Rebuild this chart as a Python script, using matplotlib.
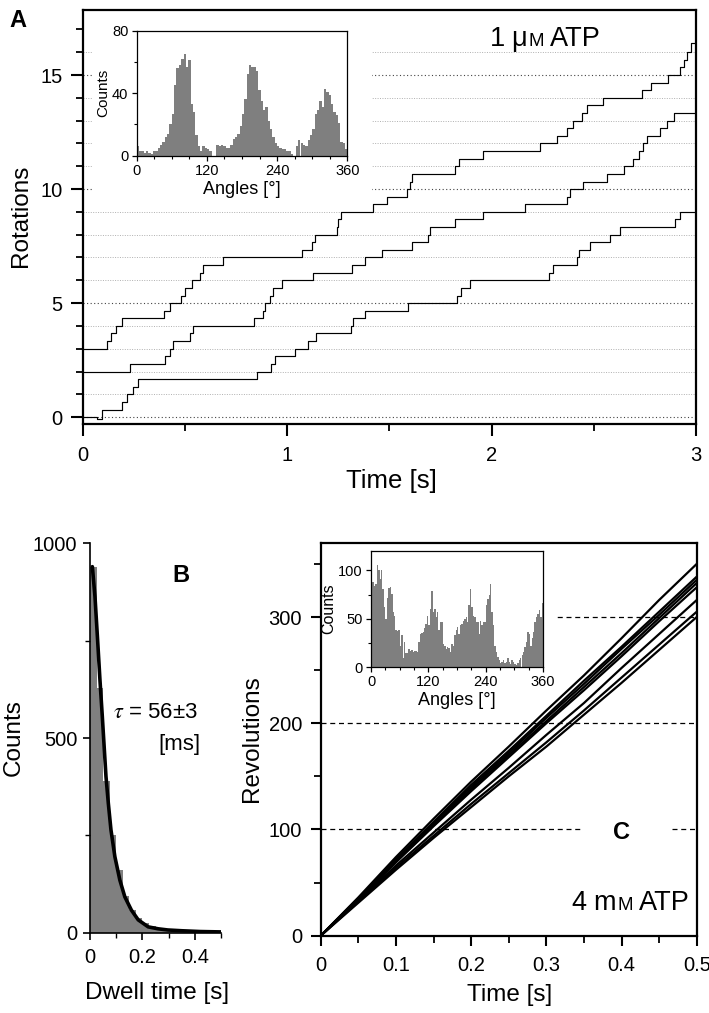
import matplotlib
matplotlib.use("Agg")
import matplotlib.pyplot as plt
from matplotlib.patches import Rectangle
from matplotlib.ticker import MultipleLocator, FuncFormatter
from matplotlib.transforms import IdentityTransform

plt.rcParams['font.family'] = ['Liberation Sans', 'DejaVu Sans']

W, H, DPI = 709, 1013, 100

# ---------------- DATA ----------------
# Panel A: stepped rotation traces (time of step [s], level [rotations] from then on)
a1_time = [0.0, 0.117, 0.14, 0.165, 0.19, 0.40, 0.425, 0.48, 0.50, 0.535, 0.575, 0.59, 0.688,
           1.071, 1.12, 1.136, 1.242, 1.25, 1.262, 1.422, 1.487, 1.585, 1.60, 1.61, 1.821, 1.84,
           1.96, 2.237, 2.319, 2.37, 2.40, 2.44, 2.466, 2.547, 2.735, 2.78, 2.865, 2.922, 2.94,
           2.955, 2.975]
a1_rot = [3.0, 3.33, 3.67, 4.0, 4.33, 4.67, 5.0, 5.33, 5.67, 6.0, 6.33, 6.67, 7.0,
          7.33, 7.67, 8.0, 8.33, 8.67, 9.0, 9.33, 9.67, 10.0, 10.33, 10.67, 11.0, 11.33,
          11.67, 12.0, 12.33, 12.67, 13.0, 13.33, 13.67, 14.0, 14.33, 14.67, 15.0, 15.33, 15.67,
          16.0, 16.4]
a2_time = [0.0, 0.231, 0.403, 0.425, 0.443, 0.525, 0.541, 0.838, 0.88, 0.892, 0.916, 0.933,
           0.974, 1.128, 1.316, 1.381, 1.463, 1.61, 1.69, 1.70, 1.821, 1.96, 2.164, 2.37, 2.384,
           2.449, 2.564, 2.65, 2.694, 2.72, 2.74, 2.76, 2.824, 2.856, 2.89]
a2_rot = [2.0, 2.33, 2.67, 3.0, 3.33, 3.67, 4.0, 4.33, 4.67, 5.0, 5.33, 5.67,
          6.0, 6.33, 6.67, 7.0, 7.33, 7.67, 8.0, 8.33, 8.67, 9.0, 9.33, 9.67, 10.0,
          10.33, 10.67, 11.0, 11.33, 11.67, 12.0, 12.33, 12.67, 13.0, 13.33]
a3_time = [0.0, 0.068, 0.093, 0.19, 0.215, 0.245, 0.27, 0.855, 0.92, 0.941, 1.039, 1.10,
           1.14, 1.31, 1.324, 1.381, 1.593, 1.83, 1.85, 1.895, 2.28, 2.302, 2.417, 2.43,
           2.482, 2.58, 2.629, 2.898, 2.922]
a3_rot = [0.0, -0.1, 0.33, 0.67, 1.0, 1.33, 1.67, 2.0, 2.33, 2.67, 3.0, 3.33,
          3.67, 4.0, 4.33, 4.67, 5.0, 5.33, 5.67, 6.0, 6.33, 6.67, 7.0, 7.33,
          7.67, 8.0, 8.33, 8.67, 9.0]
a_time_end = 3.0

# Panel A inset: angle histogram (4 degree bins)
a_hist_left = list(range(0, 360, 4))
a_hist_counts = [6, 3, 3, 2, 3, 2, 1, 3, 3, 5, 7, 9, 12, 14, 20, 27, 45, 56, 58, 62,
                 65, 57, 61, 33, 28, 13, 6, 3, 6, 5, 4, 3, 0, 0, 7, 6, 7, 6, 5, 5,
                 7, 11, 12, 14, 19, 27, 36, 52, 58, 57, 57, 54, 42, 35, 29, 31, 22, 17, 12, 8,
                 6, 5, 4, 4, 3, 3, 1, 0, 6, 10, 8, 7, 6, 10, 13, 17, 27, 29, 35, 31,
                 43, 41, 39, 33, 28, 26, 21, 9, 8, 4]

# Panel B: dwell time histogram + exponential fit curve
b_bin_left = [0.0, 0.025, 0.05, 0.075, 0.1, 0.125, 0.15, 0.175, 0.2, 0.225,
              0.25, 0.275, 0.3, 0.325, 0.35, 0.375, 0.4, 0.425, 0.45, 0.475]
b_counts = [940, 628, 390, 250, 160, 95, 58, 38, 25, 17, 12, 9, 7, 5, 4, 3, 3, 2, 1, 1]
b_fit_time = [0.009, 0.019, 0.029, 0.038, 0.047, 0.054, 0.061, 0.070, 0.080, 0.095,
              0.114, 0.133, 0.158, 0.184, 0.222, 0.26, 0.297, 0.35, 0.42, 0.5]
b_fit_counts = [940, 863, 752, 649, 555, 478, 401, 332, 264, 195,
                135, 92, 58, 33, 15, 10, 7, 5, 3, 2]

# Panel C: revolutions vs time at 4 mM ATP
c_time = [0, 0.05, 0.1, 0.15, 0.2, 0.25, 0.3, 0.35, 0.4, 0.45, 0.5]
c_rev_1 = [0, 36, 74, 110, 145, 178, 212, 245, 280, 316, 350]
c_rev_2 = [0, 35, 72, 107, 142, 174, 207, 240, 272, 305, 338]
c_rev_3 = [0, 35, 71, 106, 140, 172, 205, 237, 270, 302, 335]
c_rev_4 = [0, 34, 70, 104, 138, 170, 202, 234, 266, 299, 332]
c_rev_5 = [0, 34, 69, 103, 136, 168, 200, 231, 263, 296, 328]
c_rev_6 = [0, 33, 66, 97, 128, 158, 189, 219, 252, 284, 316]
c_rev_7 = [0, 32, 64, 94, 124, 153, 182, 212, 243, 274, 305]
c_rev_8 = [0, 31, 62, 92, 121, 150, 178, 208, 238, 269, 300]

# Panel C inset: angle histogram (3 degree bins)
c_hist_left = list(range(0, 360, 3))
c_hist_counts = [86, 88, 84, 86, 106, 100, 91, 100, 81, 62, 50, 71, 82, 83, 76, 57, 53, 38, 37, 38,
                 22, 33, 9, 26, 14, 15, 19, 17, 18, 16, 17, 17, 16, 26, 34, 35, 36, 40, 45, 53,
                 43, 60, 79, 57, 60, 52, 57, 38, 47, 47, 24, 22, 19, 21, 20, 16, 24, 22, 33, 38,
                 41, 34, 43, 45, 48, 50, 52, 47, 64, 81, 62, 53, 52, 47, 47, 34, 48, 43, 47, 47,
                 64, 70, 74, 86, 57, 43, 22, 16, 10, 7, 4, 5, 7, 4, 5, 9, 5, 3, 7, 5,
                 3, 2, 4, 7, 9, 12, 16, 21, 26, 36, 34, 22, 30, 36, 47, 52, 55, 59, 52, 66]

# ---------------- FIGURE ----------------
fig = plt.figure(figsize=(W / DPI, H / DPI), dpi=DPI)
fig.patch.set_facecolor('white')


def axes_px(left, top, right, bottom):
    return fig.add_axes([left / W, 1 - bottom / H, (right - left) / W, (bottom - top) / H])


def ftext(x, y, s, **kw):
    return fig.text(x / W, 1 - y / H, s, **kw)


def rich_text(x, y, pieces, ha='left'):
    """pieces: list of (string, fontsize, gap_after_px); y = baseline in image px."""
    r = fig.canvas.get_renderer()
    ts, ws = [], []
    for s, fs, gap in pieces:
        t = fig.text(0, 0, s, fontsize=fs, va='baseline', ha='left',
                     transform=IdentityTransform())
        ts.append(t)
        ws.append(t.get_window_extent(r).width + gap)
    total = sum(ws)
    x0 = x - total if ha == 'right' else x
    for t, w in zip(ts, ws):
        t.set_position((x0, H - y))
        x0 += w


zero_fmt = FuncFormatter(lambda v, _: '0' if abs(v) < 1e-9 else f'{v:g}')

TICK = 14.5
LAB = 17.5

# ---- Panel A ----
axA = axes_px(82.7, 10, 696, 424)
axA.set_xlim(0, 3)
axA.set_ylim(-0.3, 17.85)
for r in range(0, 17):
    if r % 5 == 0:
        axA.hlines(r, 0, 3, colors='#444444', linestyles=(0, (1, 2.2)), lw=0.8, zorder=1)
    else:
        axA.hlines(r, 0, 3, colors='#b0b0b0', linestyles=(0, (1, 1.5)), lw=0.7, zorder=1)
axA.add_patch(Rectangle((0.045, 9.55), 1.415 - 0.045, 17.85 - 9.55,
                        facecolor='white', edgecolor='none', zorder=1.5))
for tt, rr in [(a1_time, a1_rot), (a2_time, a2_rot), (a3_time, a3_rot)]:
    axA.step(tt + [a_time_end], rr + [rr[-1]], where='post', color='black', lw=0.85, zorder=3)
axA.xaxis.set_major_locator(MultipleLocator(1))
axA.xaxis.set_minor_locator(MultipleLocator(0.5))
axA.yaxis.set_major_locator(MultipleLocator(5))
axA.yaxis.set_minor_locator(MultipleLocator(1))
axA.tick_params(which='major', direction='out', length=8.5, width=1.5, labelsize=TICK, pad=6)
axA.tick_params(which='minor', direction='out', length=5, width=1.3)
axA.tick_params(axis='x', which='major', pad=7)
for s in axA.spines.values():
    s.set_linewidth(1.6)
axA.xaxis.set_major_formatter(zero_fmt)

ftext(21, 216, 'Rotations', rotation=90, ha='center', va='center', fontsize=LAB)
ftext(391, 481, 'Time [s]', ha='center', va='center', fontsize=LAB + 1)
ftext(9, 27, 'A', fontsize=17, fontweight='bold', va='baseline')

# Panel A inset
axAi = axes_px(136.7, 30.7, 347.3, 155.7)
axAi.bar(a_hist_left, a_hist_counts, width=4, align='edge', color='#7f7f7f', lw=0)
axAi.set_xlim(0, 360)
axAi.set_ylim(0, 80)
axAi.xaxis.set_major_locator(MultipleLocator(120))
axAi.xaxis.set_minor_locator(MultipleLocator(30))
axAi.yaxis.set_major_locator(MultipleLocator(40))
axAi.yaxis.set_minor_locator(MultipleLocator(20))
axAi.tick_params(which='major', direction='out', length=3.5, width=0.9, labelsize=10.5, pad=2.5)
axAi.tick_params(which='minor', direction='out', length=2, width=0.8)
for s in axAi.spines.values():
    s.set_linewidth(0.9)
axAi.set_ylabel('Counts', fontsize=11, labelpad=1)
axAi.set_xlabel('Angles [°]', fontsize=13, labelpad=2)

# ---- Panel B ----
axB = axes_px(90, 543.3, 221, 932.7)
axB.bar(b_bin_left, b_counts, width=0.025, align='edge', color='#808080', lw=0)
axB.plot(b_fit_time, b_fit_counts, color='black', lw=2.6, solid_capstyle='round')
axB.set_xlim(0, 0.5)
axB.set_ylim(0, 1000)
axB.spines['top'].set_visible(False)
axB.spines['right'].set_visible(False)
for s in ('left', 'bottom'):
    axB.spines[s].set_linewidth(1.2)
axB.xaxis.set_major_locator(MultipleLocator(0.2))
axB.xaxis.set_minor_locator(MultipleLocator(0.1))
axB.yaxis.set_major_locator(MultipleLocator(500))
axB.yaxis.set_minor_locator(MultipleLocator(250))
axB.tick_params(which='major', direction='out', length=5, width=1.2, labelsize=TICK, pad=4)
axB.tick_params(which='minor', direction='out', length=3.5, width=1.0)
axB.tick_params(axis='x', which='major', pad=6)
axB.xaxis.set_major_formatter(zero_fmt)

ftext(14, 738, 'Counts', rotation=90, ha='center', va='center', fontsize=LAB)
ftext(157, 993, 'Dwell time [s]', ha='center', va='center', fontsize=LAB)
ftext(172, 582, 'B', fontsize=17, fontweight='bold', va='baseline')
ftext(198, 718, r'$\tau$ = 56±3', ha='right', va='baseline', fontsize=16, math_fontfamily='stix')
ftext(200, 750, '[ms]', ha='right', va='baseline', fontsize=16)

# ---- Panel C ----
axC = axes_px(320.7, 542.7, 696.7, 935.7)
axC.set_xlim(0, 0.5)
axC.set_ylim(0, 370)
dash = (0, (4, 3))
axC.hlines(200, 0, 0.5, colors='black', linestyles=dash, lw=0.9, zorder=1)
axC.hlines(300, 0, 0.5, colors='black', linestyles=dash, lw=0.9, zorder=1)
axC.hlines(100, 0, 0.345, colors='black', linestyles=dash, lw=0.9, zorder=1)
axC.hlines(100, 0.467, 0.5, colors='black', linestyles=dash, lw=0.9, zorder=1)
axC.add_patch(Rectangle((0, 213), 0.3116, 157, facecolor='white', edgecolor='none', zorder=1.5))
for rev in [c_rev_1, c_rev_2, c_rev_3, c_rev_4, c_rev_5, c_rev_6, c_rev_7, c_rev_8]:
    axC.plot(c_time, rev, color='black', lw=1.6, zorder=3)
axC.xaxis.set_major_locator(MultipleLocator(0.1))
axC.xaxis.set_minor_locator(MultipleLocator(0.05))
axC.yaxis.set_major_locator(MultipleLocator(100))
axC.yaxis.set_minor_locator(MultipleLocator(50))
axC.tick_params(which='major', direction='out', length=7.5, width=1.5, labelsize=TICK, pad=6)
axC.tick_params(which='minor', direction='out', length=5, width=1.3)
axC.tick_params(axis='x', which='major', pad=7)
for s in axC.spines.values():
    s.set_linewidth(1.6)
axC.xaxis.set_major_formatter(zero_fmt)

ftext(252, 739, 'Revolutions', rotation=90, ha='center', va='center', fontsize=LAB)
ftext(510, 995, 'Time [s]', ha='center', va='center', fontsize=LAB)
ftext(621, 832, 'C', ha='center', va='center', fontsize=17, fontweight='bold')

# Panel C inset
axCi = axes_px(371, 551, 543, 667)
axCi.bar(c_hist_left, c_hist_counts, width=3, align='edge', color='#7f7f7f', lw=0)
axCi.set_xlim(0, 360)
axCi.set_ylim(0, 120)
axCi.xaxis.set_major_locator(MultipleLocator(120))
axCi.xaxis.set_minor_locator(MultipleLocator(30))
axCi.yaxis.set_major_locator(MultipleLocator(50))
axCi.yaxis.set_minor_locator(MultipleLocator(25))
axCi.tick_params(which='major', direction='out', length=3.5, width=0.9, labelsize=10.5, pad=2.5)
axCi.tick_params(which='minor', direction='out', length=2, width=0.8)
for s in axCi.spines.values():
    s.set_linewidth(0.9)
axCi.set_ylabel('Counts', fontsize=11.5, labelpad=1)
axCi.set_xlabel('Angles [°]', fontsize=13, labelpad=2)

# Concentration labels with small-caps "M"
BIG, SMALL = 19.5, 13.5
rich_text(490, 46, [('1', BIG, 5.5), ('μ', BIG, 1.5), ('M', SMALL, 6.5), ('ATP', BIG, 0)])
rich_text(690, 910, [('4', BIG, 6.5), ('m', BIG, 1.5), ('M', SMALL, 6.5), ('ATP', BIG, 0)], ha='right')

fig.savefig('out.png', dpi=DPI, facecolor='white')
